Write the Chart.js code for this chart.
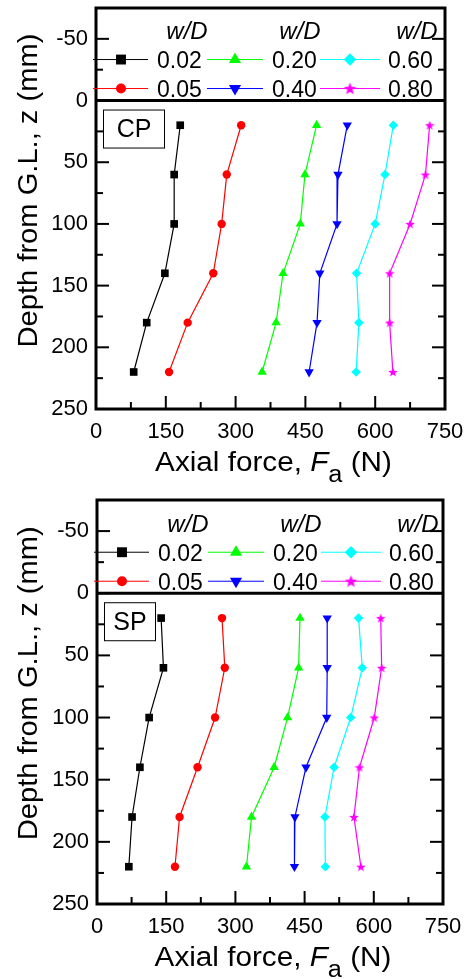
<!DOCTYPE html>
<html>
<head>
<meta charset="utf-8">
<script src="https://cdn.jsdelivr.net/npm/chart.js"></script>
<style>
  html, body { margin: 0; padding: 0; background: #fff; }
  .panel { position: absolute; left: 0; width: 470px; }
  #top-panel { top: 0; height: 490px; }
  #bottom-panel { top: 490px; height: 489px; }
</style>
</head>
<body>
<div class="panel" id="top-panel"><canvas id="cp-chart"></canvas></div>
<div class="panel" id="bottom-panel"><canvas id="sp-chart"></canvas></div>
<script>
// depth of each gauge below ground level (mm)
const depths = [20, 60, 100, 140, 180, 220];
const wdLabels = ['0.02', '0.05', '0.20', '0.40', '0.60', '0.80'];
const forceTicks = [0, 150, 300, 450, 600, 750];
const depthTicks = [-50, 0, 50, 100, 150, 200, 250];

// CP axial force (N) per w/D
const cpForce002 = [181, 168, 168, 148, 109, 81];
const cpForce005 = [312, 281, 270, 252, 197, 157];
const cpForce020 = [474, 449, 439, 402, 387, 357];
const cpForce040 = [540, 520, 518, 481, 475, 458];
const cpForce060 = [639, 621, 600, 560, 565, 559];
const cpForce080 = [717, 708, 675, 631, 631, 638];

// SP axial force (N) per w/D
const spForce002 = [139, 144, 113, 93, 76, 69];
const spForce005 = [271, 277, 256, 218, 179, 169];
const spForce020 = [440, 437, 413, 384, 335, 324];
const spForce040 = [499, 499, 498, 453, 429, 428];
const spForce060 = [567, 575, 550, 514, 494, 495];
const spForce080 = [615, 617, 601, 569, 557, 572];

const seriesColors = ['#000000', '#ff0000', '#00ff00', '#0000ff', '#00ffff', '#ff00ff'];
const FONT = '"Liberation Sans", Arial, sans-serif';

function makeStar(size, color) {
    const c = document.createElement('canvas');
    c.width = size;
    c.height = size;
    const g = c.getContext('2d');
    const R = size / 2, r = R * 0.42;
    g.beginPath();
    for (let i = 0; i < 10; i++) {
        const a = -Math.PI / 2 + i * Math.PI / 5;
        const rr = i % 2 ? r : R;
        g.lineTo(R + rr * Math.cos(a), R + 0.5 + rr * Math.sin(a));
    }
    g.closePath();
    g.fillStyle = color;
    g.fill();
    return c;
}

const starSmall = makeStar(10, '#ff00ff');
const starLegend = makeStar(13, '#ff00ff');

// marker per series: [style, radius, rotation] for plot and legend
const markers = [
    { style: 'rect', r: 5.4, lr: 7, rot: 0 },
    { style: 'circle', r: 4.2, lr: 5, rot: 0 },
    { style: 'triangle', r: 5.4, lr: 7, rot: 0 },
    { style: 'triangle', r: 5.4, lr: 7, rot: 180 },
    { style: 'rectRot', r: 4.8, lr: 6.2, rot: 0 },
    { style: starSmall, legendImg: starLegend, rot: 0 }
];

// legend layout, px relative to chart left edge / depth-0 line
const legendCols = [
    { from: -3, to: 52, mark: 25, text: 61, head: 91 },
    { from: 111, to: 167, mark: 139, text: 176, head: 204 },
    { from: 224, to: 284, mark: 254, text: 292, head: 321 }
];
const legendRows = [-41, -12];
const legendHeadY = -68;

function line(ctx, x1, y1, x2, y2) {
    ctx.beginPath();
    ctx.moveTo(x1, y1);
    ctx.lineTo(x2, y2);
    ctx.stroke();
}

const framePlugin = {
    id: 'frame',
    afterDraw(chart, args, opts) {
        const { ctx, chartArea: a, scales: { x, y } } = chart;
        const y0 = y.getPixelForValue(0);
        ctx.save();
        ctx.strokeStyle = '#000';
        ctx.lineWidth = 2;

        // inward ticks
        for (let v = -50; v < 250; v += 25) {
            const py = y.getPixelForValue(v);
            const len = v % 50 === 0 ? 13 : 7;
            line(ctx, a.left, py, a.left + len, py);
            line(ctx, a.right, py, a.right - len, py);
        }
        for (let v = 75; v < 750; v += 75) {
            const px = x.getPixelForValue(v);
            const len = v % 150 === 0 ? 13 : 7;
            line(ctx, px, a.bottom, px, a.bottom - len);
        }

        ctx.lineWidth = 3;
        line(ctx, a.left, y0, a.right, y0);
        ctx.strokeRect(a.left, a.top, a.right - a.left, a.bottom - a.top);

        // tag box (CP / SP)
        ctx.lineWidth = 1;
        ctx.strokeRect(a.left + 7.5, y0 + 9.5, opts.tagW, 38);
        ctx.fillStyle = '#000';
        ctx.font = `25px ${FONT}`;
        ctx.textAlign = 'center';
        ctx.textBaseline = 'middle';
        ctx.fillText(opts.tag, a.left + 7.5 + opts.tagW / 2, y0 + 30);

        // legend
        const H = Chart.helpers;
        chart.data.datasets.forEach((ds, i) => {
            const col = legendCols[Math.floor(i / 2)];
            const ry = y0 + legendRows[i % 2];
            ctx.strokeStyle = ds.borderColor;
            ctx.lineWidth = 1;
            line(ctx, a.left + col.from, ry, a.left + col.to, ry);
            const m = markers[i];
            const mx = a.left + col.mark;
            if (m.legendImg) {
                ctx.drawImage(m.legendImg, mx - m.legendImg.width / 2, ry - m.legendImg.height / 2);
            } else {
                ctx.fillStyle = ds.borderColor;
                H.drawPoint(ctx, { pointStyle: m.style, radius: m.lr, rotation: m.rot, borderWidth: 0 }, mx, ry);
            }
            ctx.fillStyle = '#000';
            ctx.font = `23px ${FONT}`;
            ctx.textAlign = 'left';
            ctx.textBaseline = 'middle';
            ctx.fillText(ds.label, a.left + col.text, ry + 2);
        });
        ctx.font = `italic 24px ${FONT}`;
        ctx.textAlign = 'center';
        ctx.fillStyle = '#000';
        legendCols.forEach(col => {
            ctx.fillText('w/D', a.left + col.head, y0 + legendHeadY);
        });

        // y axis title
        ctx.save();
        ctx.translate(29, y0 + 90);
        ctx.rotate(-Math.PI / 2);
        ctx.scale(1.04, 1);
        ctx.font = `28px ${FONT}`;
        ctx.textAlign = 'center';
        ctx.textBaseline = 'middle';
        ctx.fillText('Depth from G.L., z (mm)', 0, 0);
        ctx.restore();

        // x axis title with italic F and subscript a
        const fs = 27;
        const parts = [
            { t: 'Axial force, ', f: `${fs}px ${FONT}`, dy: 0 },
            { t: 'F', f: `italic ${fs}px ${FONT}`, dy: 0 },
            { t: 'a', f: `${Math.round(fs * 0.85)}px ${FONT}`, dy: fs * 0.42 },
            { t: ' (N)', f: `${fs}px ${FONT}`, dy: 0 }
        ];
        let total = 0;
        parts.forEach(p => { ctx.font = p.f; p.w = ctx.measureText(p.t).width; total += p.w; });
        const sx = 1.1;
        ctx.save();
        ctx.translate((a.left + a.right) / 2 + 3, a.bottom + 62);
        ctx.scale(sx, 1);
        ctx.textAlign = 'left';
        ctx.textBaseline = 'alphabetic';
        let cx = -total / 2;
        parts.forEach(p => {
            ctx.font = p.f;
            ctx.fillText(p.t, cx, p.dy);
            cx += p.w;
        });
        ctx.restore();

        ctx.restore();
    }
};

function makeChart(canvasId, forces, tag, tagW, pad, xHeight, yWidth) {
    const ctx = document.getElementById(canvasId).getContext('2d');
    const datasets = forces.map((vals, i) => ({
        label: wdLabels[i],
        data: vals.map((f, k) => ({ x: f, y: depths[k] })),
        borderColor: seriesColors[i],
        backgroundColor: seriesColors[i],
        pointBackgroundColor: seriesColors[i],
        pointBorderWidth: 0,
        pointStyle: markers[i].style,
        pointRadius: markers[i].r || 5,
        pointRotation: markers[i].rot,
        borderWidth: 1.2,
        tension: 0
    }));

    return new Chart(ctx, {
        type: 'line',
        data: { datasets },
        options: {
            responsive: true,
            maintainAspectRatio: false,
            animation: false,
            layout: { padding: pad },
            plugins: {
                legend: { display: false },
                tooltip: { enabled: false },
                frame: { tag, tagW }
            },
            scales: {
                x: {
                    type: 'linear',
                    min: 0,
                    max: 750,
                    grid: { display: false, drawTicks: false },
                    border: { display: false },
                    ticks: { color: '#000', font: { family: FONT, size: 22 }, padding: 10, maxRotation: 0, autoSkip: false },
                    afterBuildTicks: s => { s.ticks = forceTicks.map(v => ({ value: v })); },
                    afterFit: s => { s.height = xHeight; s.paddingLeft = 0; s.paddingRight = 0; }
                },
                y: {
                    type: 'linear',
                    min: -75,
                    max: 250,
                    reverse: true,
                    grid: { display: false, drawTicks: false },
                    border: { display: false },
                    ticks: { color: '#000', font: { family: FONT, size: 22 }, padding: 8, autoSkip: false },
                    afterBuildTicks: s => { s.ticks = depthTicks.map(v => ({ value: v })); },
                    afterFit: s => { s.width = yWidth; s.paddingTop = 0; s.paddingBottom = 0; }
                }
            }
        },
        plugins: [framePlugin]
    });
}

makeChart('cp-chart',
    [cpForce002, cpForce005, cpForce020, cpForce040, cpForce060, cpForce080],
    'CP', 61, { top: 8, right: 25, left: 0, bottom: 0 }, 81, 96);

makeChart('sp-chart',
    [spForce002, spForce005, spForce020, spForce040, spForce060, spForce080],
    'SP', 51, { top: 10, right: 27, left: 0, bottom: 0 }, 75, 97);
</script>
</body>
</html>
